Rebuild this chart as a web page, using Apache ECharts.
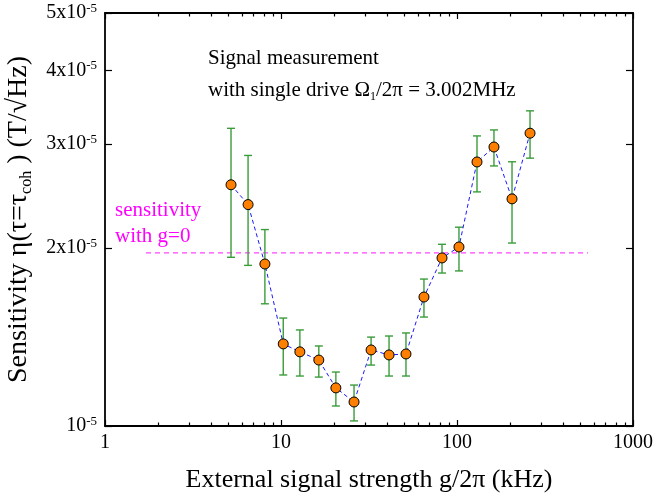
<!DOCTYPE html>
<html>
<head>
<meta charset="utf-8">
<script src="https://cdn.jsdelivr.net/npm/echarts@6/dist/echarts.min.js"></script>
<style>html,body{margin:0;padding:0;background:#fff;}#c{width:655px;height:495px;}</style>
</head>
<body>
<div id="c"></div>
<script>
// ---- data ----
const gFreq = [5.2, 6.5, 8.1, 10.3, 12.8, 16.4, 20.5, 26.0, 32.5, 41.1, 51.3, 64.9, 82.2, 102.6, 129.9, 162.2, 205.4, 260];
const eta = [2.56e-5, 2.37e-5, 1.88e-5, 1.377e-5, 1.335e-5, 1.293e-5, 1.16e-5, 1.098e-5, 1.345e-5, 1.319e-5, 1.324e-5, 1.653e-5, 1.925e-5, 2.009e-5, 2.798e-5, 2.966e-5, 2.423e-5, 3.13e-5];
const etaLow = [1.93e-5, 1.87e-5, 1.61e-5, 1.22e-5, 1.215e-5, 1.21e-5, 1.081e-5, 1.02e-5, 1.268e-5, 1.215e-5, 1.215e-5, 1.529e-5, 1.815e-5, 1.83e-5, 2.49e-5, 2.755e-5, 2.04e-5, 2.84e-5];
const etaHigh = [3.19e-5, 2.87e-5, 2.15e-5, 1.523e-5, 1.454e-5, 1.366e-5, 1.234e-5, 1.173e-5, 1.414e-5, 1.42e-5, 1.437e-5, 1.773e-5, 2.03e-5, 2.17e-5, 3.097e-5, 3.17e-5, 2.80e-5, 3.415e-5];
const g0Sens = 1.963e-5;
const g0Range = [1.71, 555];
const xMajorTicks = [1, 10, 100, 1000];
const xMinorTicks = [2,3,4,5,6,7,8,9,20,30,40,50,60,70,80,90,200,300,400,500,600,700,800,900];
const yTicks = [1e-5, 2e-5, 3e-5, 4e-5, 5e-5];

const FONT = '"Liberation Serif","Times New Roman",serif';
const chart = echarts.init(document.getElementById('c'));

const lineData = gFreq.map((x, i) => [x, eta[i]]);
const errData = gFreq.map((x, i) => [x, etaLow[i], etaHigh[i]]);

function xAxisDef(pos, ticks, len, showLabel, showLine) {
  return {
    type: 'log', logBase: 10, min: 1, max: 1000, position: pos, gridIndex: 0,
    axisLine: { show: showLine, lineStyle: { color: '#000', width: 1.8 } },
    axisTick: { show: true, inside: true, length: len, customValues: ticks, lineStyle: { color: '#000', width: 1.2 } },
    axisLabel: showLabel ? {
      show: true, customValues: ticks, margin: 7, color: '#000', fontFamily: FONT, fontSize: 20,
      formatter: v => String(Math.round(v))
    } : { show: false },
    splitLine: { show: false }, minorTick: { show: false }
  };
}
function yAxisDef(pos, showLabel) {
  return {
    type: 'log', logBase: 10, min: 1e-5, max: 5e-5, position: pos, gridIndex: 0,
    axisLine: { show: true, lineStyle: { color: '#000', width: 1.8 } },
    axisTick: { show: true, inside: true, length: 7, customValues: yTicks, lineStyle: { color: '#000', width: 1.2 } },
    axisLabel: showLabel ? {
      show: true, customValues: yTicks, margin: 8, color: '#000', fontFamily: FONT,
      formatter: v => {
        const m = Math.round(v / 1e-5);
        return (m === 1 ? '{a|10}' : '{a|' + m + 'x10}') + '{s|-5}';
      },
      rich: {
        a: { fontFamily: FONT, fontSize: 20, color: '#000', lineHeight: 22 },
        s: { fontFamily: FONT, fontSize: 13, color: '#000', verticalAlign: 'top', lineHeight: 13 }
      }
    } : { show: false },
    splitLine: { show: false },
    name: showLabel ? '{t|Sensitivity η(τ=τ}{sub|coh}{t| ) (T/√Hz)}' : '',
    nameLocation: 'middle', nameGap: 70, nameRotate: 90,
    nameTextStyle: {
      rich: {
        t: { fontFamily: FONT, fontSize: 28, color: '#000', lineHeight: 32 },
        sub: { fontFamily: FONT, fontSize: 16, color: '#000', verticalAlign: 'bottom', lineHeight: 24 }
      }
    }
  };
}

const xMain = xAxisDef('bottom', xMajorTicks, 6, true, true);
xMain.name = 'External signal strength g/2π (kHz)';
xMain.nameLocation = 'middle';
xMain.nameGap = 41;
xMain.nameTextStyle = { fontFamily: FONT, fontSize: 26, color: '#000' };

const option = {
  backgroundColor: '#fff',
  animation: false,
  grid: { left: 105, right: 22, top: 13, bottom: 69, containLabel: false, outerBoundsMode: 'none' },
  xAxis: [
    xMain,
    xAxisDef('bottom', xMinorTicks, 3.5, false, false),
    xAxisDef('top', xMajorTicks, 6, false, true),
    xAxisDef('top', xMinorTicks, 3.5, false, false)
  ],
  yAxis: [yAxisDef('left', true), yAxisDef('right', false)],
  graphic: [
    { type: 'text', left: 208, top: 48, style: { text: 'Signal measurement', fontFamily: FONT, fontSize: 21, fill: '#000' } },
    { type: 'text', left: 208, top: 80, style: {
      text: '{t|with single drive Ω}{sub|1}{t|/2π = 3.002MHz}',
      rich: {
        t: { fontFamily: FONT, fontSize: 21, fill: '#000', lineHeight: 24 },
        sub: { fontFamily: FONT, fontSize: 12, fill: '#000', verticalAlign: 'bottom', lineHeight: 18 }
      } } },
    { type: 'text', left: 115, top: 200, style: { text: 'sensitivity', fontFamily: FONT, fontSize: 21, fill: '#ff00ff' } },
    { type: 'text', left: 115, top: 226, style: { text: 'with g=0', fontFamily: FONT, fontSize: 21, fill: '#ff00ff' } }
  ],
  series: [
    {
      type: 'line', xAxisIndex: 0, yAxisIndex: 0,
      data: [[g0Range[0], g0Sens], [g0Range[1], g0Sens]],
      symbol: 'none', lineStyle: { color: '#ff44ff', width: 1.4, type: [5, 4] }, z: 1
    },
    {
      type: 'custom', xAxisIndex: 0, yAxisIndex: 0, data: errData, z: 2,
      renderItem: (params, api) => {
        const x = api.value(0);
        const lo = api.coord([x, api.value(1)]);
        const hi = api.coord([x, api.value(2)]);
        const w = 4;
        const st = { stroke: '#3a9c3a', lineWidth: 1.4 };
        return { type: 'group', children: [
          { type: 'line', shape: { x1: lo[0], y1: lo[1], x2: hi[0], y2: hi[1] }, style: st },
          { type: 'line', shape: { x1: lo[0] - w, y1: lo[1], x2: lo[0] + w, y2: lo[1] }, style: st },
          { type: 'line', shape: { x1: hi[0] - w, y1: hi[1], x2: hi[0] + w, y2: hi[1] }, style: st }
        ] };
      }
    },
    {
      type: 'line', xAxisIndex: 0, yAxisIndex: 0, data: lineData, z: 3,
      symbol: 'circle', symbolSize: 10,
      itemStyle: { color: '#ff8000', borderColor: '#000', borderWidth: 1 },
      lineStyle: { color: '#1a1aff', width: 1, type: [4, 3] }
    }
  ]
};
chart.setOption(option);
</script>
</body>
</html>
